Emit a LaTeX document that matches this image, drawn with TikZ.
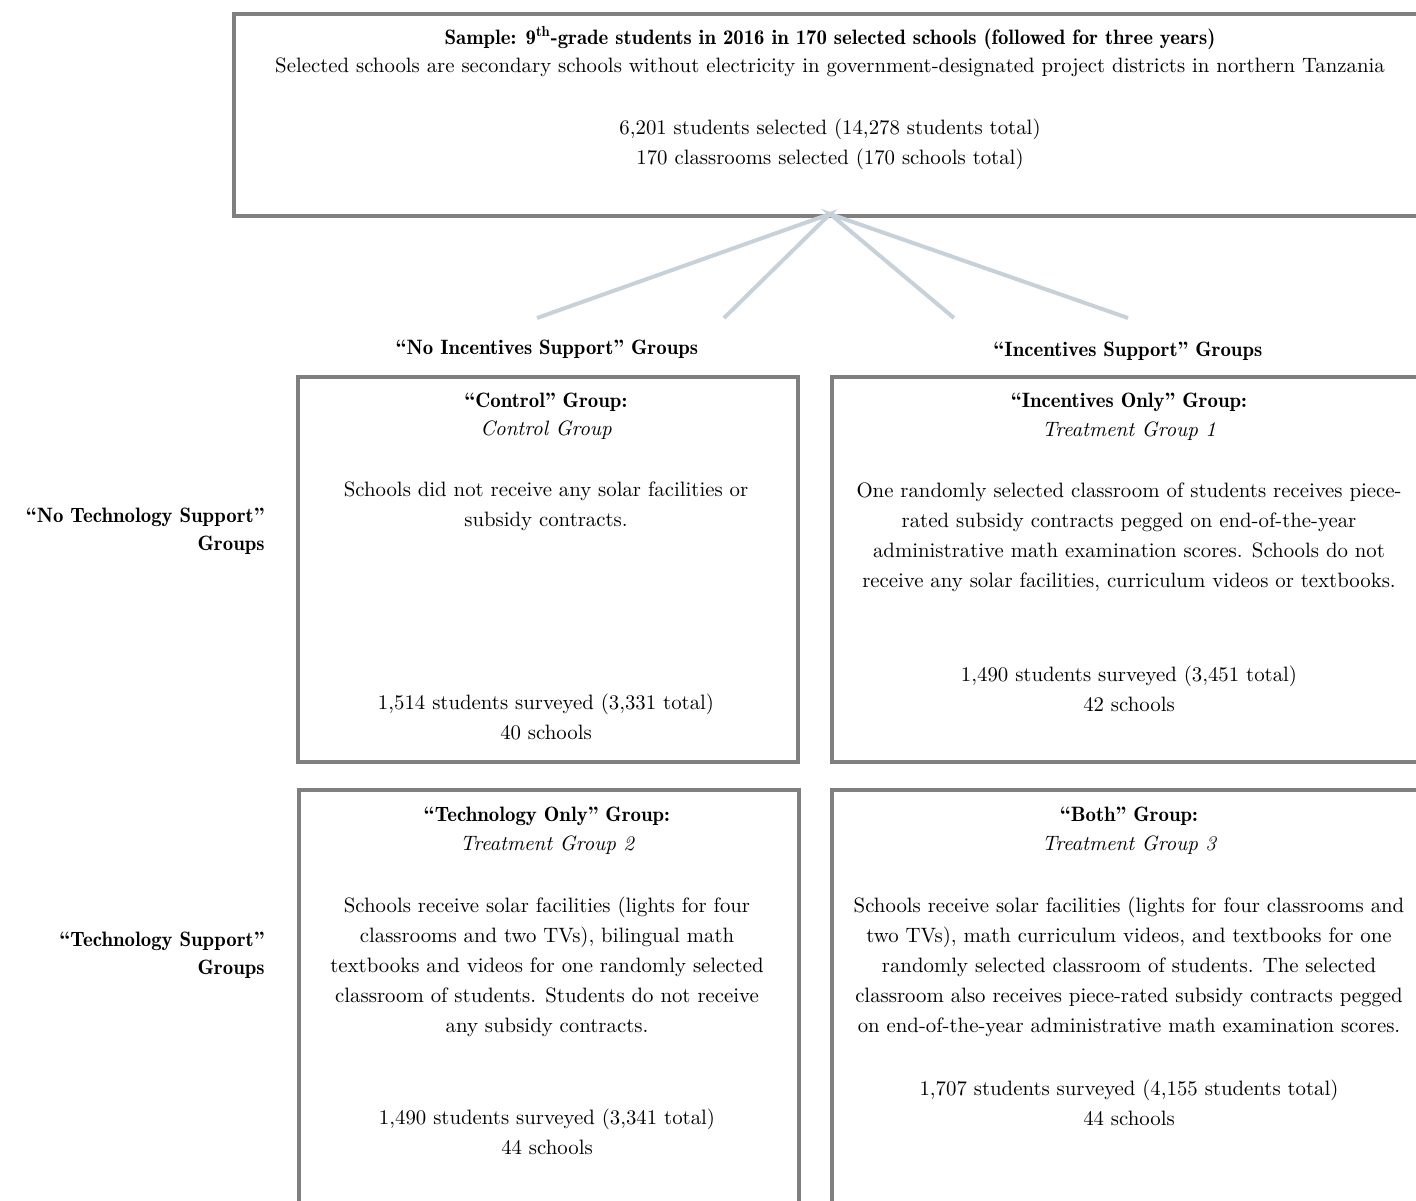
\documentclass[tikz,border=0pt]{standalone}
\usepackage{fontspec}
\setmainfont{lmroman10-regular.otf}[
  BoldFont=lmromandemi10-regular.otf,
  ItalicFont=lmroman10-italic.otf,
  BoldItalicFont=lmromandemi10-oblique.otf]
\definecolor{boxgray}{HTML}{7F7F7F}
\definecolor{linkblue}{HTML}{C6D1D9}
\tikzset{
  panel/.style={draw=boxgray, line width=2pt, anchor=north west, inner sep=0pt},
  txt/.style={inner sep=0pt, align=center, font=\fontsize{10.4}{15}\selectfont},
  head/.style={txt, font=\fontsize{10.4}{15}\selectfont\bfseries},
  sub/.style={txt, font=\fontsize{10.4}{15}\selectfont\itshape},
  side/.style={inner sep=0pt, align=right, anchor=east, font=\fontsize{10.4}{14}\selectfont\bfseries},
  link/.style={draw=linkblue, line width=2pt},
}
\begin{document}
\begin{tikzpicture}[x=0.5pt,y=-0.5pt]
\useasboundingbox (0,0) rectangle (1416,1200);
\clip (0,0) rectangle (1416,1200);
% boxes
\node[panel, minimum width=1240*0.5pt, minimum height=202*0.5pt] (top) at (232,12) {};
\node[panel, minimum width=500*0.5pt, minimum height=385*0.5pt] (ctrl) at (296,375) {};
\node[panel, minimum width=620*0.5pt, minimum height=385*0.5pt] (inc) at (830,375) {};
\node[panel, minimum width=500*0.5pt, minimum height=440*0.5pt] (tech) at (297,788) {};
\node[panel, minimum width=620*0.5pt, minimum height=440*0.5pt] (both) at (830,788) {};
% top text
\node[head] (t1) at (830,38) {Sample: 9\textsuperscript{th}-grade students in 2016 in 170 selected schools (followed for three years)};
\node[txt] (t2) at (830,67) {Selected schools are secondary schools without electricity in government-designated project districts in northern Tanzania};
\node[txt] (t3) at (830,144.5) {6,201 students selected (14,278 students total)\\170 classrooms selected (170 schools total)};
% connectors
\coordinate (hub) at (830,214);
\coordinate (e1) at (537,318);
\coordinate (e2) at (724,318);
\coordinate (e3) at (954,318);
\coordinate (e4) at (1128,318);
\draw[link] (e1) -- (hub) -- (e2);
\draw[link] (e3) -- (hub) -- (e4);
% group labels
\node[head] (gno) at (547,349) {“No Incentives Support” Groups};
\node[head] (gyes) at (1128,351) {“Incentives Support” Groups};
\node[side] (snotech) at (265,531) {“No Technology Support”\\Groups};
\node[side] (stech) at (265,955) {“Technology Support”\\Groups};
% control
\node[head] (c1) at (546,402) {“Control” Group:};
\node[sub] (c2) at (546,430) {Control Group};
\node[txt] (c3) at (546,506.5) {Schools did not receive any solar facilities or\\subsidy contracts.};
\node[txt] (c4) at (546,717) {1,514 students surveyed (3,331 total)\\40 schools};
% incentives only
\node[head] (i1) at (1129,402) {“Incentives Only” Group:};
\node[sub] (i2) at (1129,431) {Treatment Group 1};
\node[txt] (i3) at (1129,537) {One randomly selected classroom of students receives piece-\\rated subsidy contracts pegged on end-of-the-year\\administrative math examination scores. Schools do not\\receive any solar facilities, curriculum videos or textbooks.};
\node[txt] (i4) at (1129,688.5) {1,490 students surveyed (3,451 total)\\42 schools};
% technology only
\node[head] (o1) at (547,816) {“Technology Only” Group:};
\node[sub] (o2) at (547,845) {Treatment Group 2};
\node[txt] (o3) at (547,967) {Schools receive solar facilities (lights for four\\classrooms and two TVs), bilingual math\\textbooks and videos for one randomly selected\\classroom of students. Students do not receive\\any subsidy contracts.};
\node[txt] (o4) at (547,1132) {1,490 students surveyed (3,341 total)\\44 schools};
% both
\node[head] (b1) at (1129,816) {“Both” Group:};
\node[sub] (b2) at (1129,845) {Treatment Group 3};
\node[txt] (b3) at (1129,967) {Schools receive solar facilities (lights for four classrooms and\\two TVs), math curriculum videos, and textbooks for one\\randomly selected classroom of students. The selected\\classroom also receives piece-rated subsidy contracts pegged\\on end-of-the-year administrative math examination scores.};
\node[txt] (b4) at (1129,1102.5) {1,707 students surveyed (4,155 students total)\\44 schools};
\end{tikzpicture}
\end{document}
